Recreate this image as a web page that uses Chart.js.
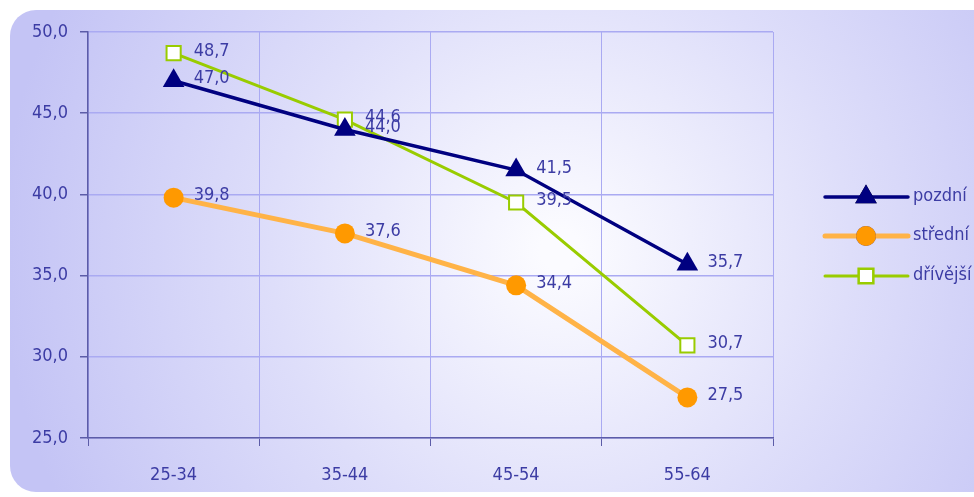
<!DOCTYPE html>
<html>
<head>
<meta charset="utf-8">
<script src="https://cdn.jsdelivr.net/npm/chart.js@4.4.0/dist/chart.umd.min.js"></script>
<style>
  html, body { margin: 0; padding: 0; background: #ffffff; }
  #wrap { width: 974px; height: 497px; position: relative; }
</style>
</head>
<body>
<div id="wrap"><canvas id="chart" width="974" height="497"></canvas></div>
<script>
// ── Data ──────────────────────────────────────────────────────
const categories   = ['25-34', '35-44', '45-54', '55-64'];
const seriesNames  = ['pozdní', 'střední', 'dřívější'];
const pozdniVals   = [47.0, 44.0, 41.5, 35.7];
const stredniVals  = [39.8, 37.6, 34.4, 27.5];
const drivejsiVals = [48.7, 44.6, 39.5, 30.7];
const yTicks       = [25, 30, 35, 40, 45, 50];

const FONT     = "'Liberation Sans Narrow', 'DejaVu Sans Condensed', sans-serif";
const TEXT_COL = '#3c3ca4';
const fmt = v => v.toFixed(1).replace('.', ',');

// ── Background panel ──────────────────────────────────────────
const panelBg = {
  id: 'panelBg',
  beforeDraw(chart) {
    const ctx = chart.ctx;
    ctx.save();
    const g = ctx.createRadialGradient(560, 250, 20, 560, 250, 560);
    g.addColorStop(0, '#fbfbff');
    g.addColorStop(0.5, '#dedefa');
    g.addColorStop(1, '#c4c4f5');
    ctx.fillStyle = g;
    ctx.beginPath();
    ctx.roundRect(10, 10, 1000, 482, 26);
    ctx.fill();
    ctx.restore();
  }
};

// ── Value labels ──────────────────────────────────────────────
const valueLabels = {
  id: 'valueLabels',
  afterDatasetsDraw(chart) {
    const ctx = chart.ctx;
    ctx.save();
    ctx.font = '18px ' + FONT;
    ctx.fillStyle = TEXT_COL;
    ctx.textBaseline = 'middle';
    chart.data.datasets.forEach((ds, i) => {
      chart.getDatasetMeta(i).data.forEach((pt, j) => {
        ctx.fillText(fmt(ds.data[j]), pt.x + 20, pt.y - 2);
      });
    });
    ctx.restore();
  }
};

// ── Legend (line + marker + text) ─────────────────────────────
const sideLegend = {
  id: 'sideLegend',
  afterDraw(chart) {
    const ctx = chart.ctx;
    const rows = [197, 236, 276];
    ctx.save();
    chart.data.datasets.forEach((ds, i) => {
      const y = rows[i];
      ctx.strokeStyle = ds.borderColor;
      ctx.lineWidth = ds.borderWidth;
      ctx.lineCap = 'round';
      ctx.beginPath();
      ctx.moveTo(825, y);
      ctx.lineTo(908, y);
      ctx.stroke();
      Chart.helpers.drawPoint(ctx, {
        pointStyle: ds.pointStyle,
        radius: ds.pointRadius,
        borderWidth: ds.pointBorderWidth
      }, 866, y);
      ctx.fillStyle = ds.pointBackgroundColor;
      ctx.strokeStyle = ds.pointBorderColor;
      ctx.lineWidth = ds.pointBorderWidth;
      ctx.fill();
      if (ds.pointBorderWidth) ctx.stroke();
      ctx.font = '18px ' + FONT;
      ctx.fillStyle = TEXT_COL;
      ctx.textBaseline = 'middle';
      ctx.fillText(seriesNames[i], 913, y - 1);
    });
    ctx.restore();
  }
};

new Chart(document.getElementById('chart'), {
  type: 'line',
  data: {
    labels: categories,
    datasets: [
      {
        label: seriesNames[0], data: pozdniVals,
        borderColor: '#000080', borderWidth: 3.5,
        pointStyle: 'triangle', pointRadius: 12.5,
        pointBackgroundColor: '#000080', pointBorderColor: '#000080', pointBorderWidth: 0,
        tension: 0
      },
      {
        label: seriesNames[1], data: stredniVals,
        borderColor: '#ffb347', borderWidth: 5,
        pointStyle: 'circle', pointRadius: 10,
        pointBackgroundColor: '#ff9900', pointBorderColor: '#ff9900', pointBorderWidth: 0,
        tension: 0
      },
      {
        label: seriesNames[2], data: drivejsiVals,
        borderColor: '#99cc00', borderWidth: 3,
        pointStyle: 'rect', pointRadius: 10,
        pointBackgroundColor: '#ffffff', pointBorderColor: '#99cc00', pointBorderWidth: 2,
        tension: 0
      }
    ]
  },
  options: {
    responsive: false,
    animation: false,
    layout: { padding: { top: 32, right: 201, left: 0, bottom: 0 } },
    plugins: { legend: { display: false }, tooltip: { enabled: false } },
    scales: {
      x: {
        offset: true,
        afterFit: s => { s.height = 59; },
        grid: { offset: true, color: '#aaaaf2', tickColor: '#5c5ca8', tickLength: 8, lineWidth: 1 },
        border: { color: '#5c5ca8', width: 1.5 },
        ticks: { color: TEXT_COL, font: { family: FONT, size: 18 }, padding: 19 }
      },
      y: {
        min: 25, max: 50,
        afterFit: s => { s.width = 88; },
        afterBuildTicks: s => { s.ticks = yTicks.map(v => ({ value: v })); },
        grid: { color: '#aaaaf2', tickColor: '#5c5ca8', tickLength: 8, lineWidth: 1.5 },
        border: { color: '#5c5ca8', width: 1.5 },
        ticks: { color: TEXT_COL, font: { family: FONT, size: 18 }, padding: 12, callback: v => fmt(v) }
      }
    }
  },
  plugins: [panelBg, valueLabels, sideLegend]
});
</script>
</body>
</html>
